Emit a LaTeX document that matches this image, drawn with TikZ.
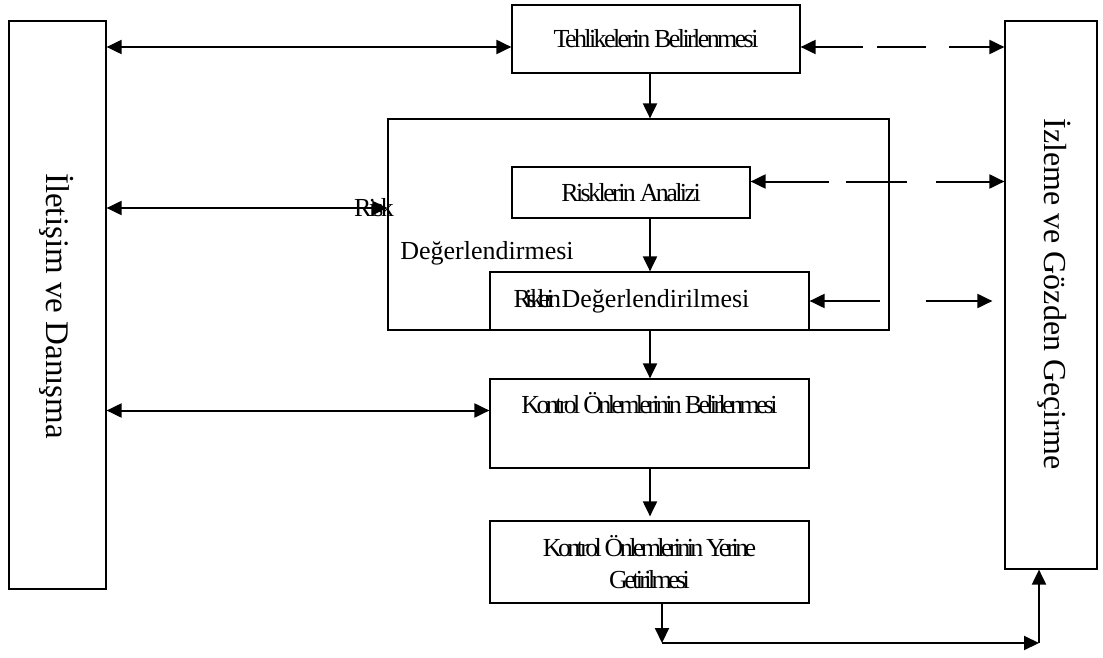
\documentclass[tikz,border=0pt]{standalone}
\usepackage{fontspec}
\setmainfont{Liberation Serif}
\newfontfamily\tightfont[LetterSpace=-10]{Liberation Serif}
\newfontfamily\tighterfont[LetterSpace=-14]{Liberation Serif}
\newfontfamily\squeezefont[LetterSpace=-23]{Liberation Serif}
\usetikzlibrary{arrows.meta,calc}
\tikzset{
	box/.style={draw, line width=1.2pt, inner sep=0pt},
	boxtext/.style={font=\fontsize{26}{32}\selectfont\tightfont, align=center},
	kontroltext/.style={font=\fontsize{26}{32}\selectfont\tighterfont, align=center},
	sidetext/.style={font=\fontsize{#1}{36}\selectfont, rotate=-90},
	arr/.style={line width=2pt, -{Triangle[length=15pt,width=14pt]}},
	bi/.style={line width=2pt, {Triangle[length=15pt,width=14pt]}-{Triangle[length=15pt,width=14pt]}},
}

\begin{document}
\begin{tikzpicture}[x=1pt,y=-1pt]
			%%%%% START %%%%%
			\useasboundingbox (0,0) rectangle (1103,658);
			
			% side boxes
			\node[box, minimum width=97pt, minimum height=568pt] (ilet) at (57.5,305) {};
			\node[sidetext=33] (iletlbl) at (57,306) {İletişim ve Danışma};
			\node[box, minimum width=92pt, minimum height=548pt] (izle) at (1051,295) {};
			\node[sidetext=32] (izlelbl) at (1054,294) {İzleme ve Gözden Geçirme};
			
			% middle column
			\node[box, boxtext, minimum width=288pt, minimum height=68pt] (tehl) at (656,39) {Tehlikelerin Belirlenmesi};
			\node[box, minimum width=501pt, minimum height=211pt] (risk) at (638.5,224.5) {};
			\node[box, boxtext, minimum width=238pt, minimum height=51pt] (anal) at (631,192.5) {Risklerin Analizi};
			\node[box, minimum width=319pt, minimum height=58pt] (degr) at (649.5,301) {};
			\node[font=\fontsize{26}{32}\selectfont] (degrlbl) at ([xshift=-18pt]degr.center) {{\squeezefont Risklerin }Değerlendirilmesi};
			\node[box, kontroltext, minimum width=319pt, minimum height=89pt] (kbel) at (649.5,423.5) {Kontrol Önlemlerinin Belirlenmesi\\ \strut};
			\node[box, kontroltext, minimum width=319pt, minimum height=82pt] (yer) at (649.5,562) {Kontrol Önlemlerinin Yerine\\ Getirilmesi};
			
			\node[font=\fontsize{26}{32}\selectfont\tightfont] (risklbl) at (374,208) {Risk};
			\node[font=\fontsize{26}{32}\selectfont] (degrtxt) at (487,253) {Değerlendirmesi};
			
			\coordinate (spine) at (650,0);
			\coordinate (fb1) at (662,643);
			\coordinate (fb2) at (1039,643);
			
			% flow down
			\draw[arr] (tehl.south -| spine) -- (risk.north -| spine);
			\draw[arr] (anal.south -| spine) -- (degr.north -| spine);
			\draw[arr] (degr.south -| spine) -- (kbel.north -| spine);
			\draw[arr] (kbel.south -| spine) -- ([yshift=4pt]yer.north -| spine);
			
			% communication
			\draw[bi] ([yshift=-8pt]tehl.west) -- ([yshift=-8pt]tehl.west -| ilet.east);
			\draw[bi] (ilet.east |- risklbl) -- (risk.west |- risklbl);
			\draw[bi] ([yshift=13pt]kbel.west) -- ([yshift=13pt]kbel.west -| ilet.east);
			
			% monitoring
			\draw[bi, dash pattern=on 48pt off 14pt on 49pt off 23pt on 80pt] ([yshift=-8pt]tehl.east) -- ([yshift=-8pt]tehl.east -| izle.west);
			\draw[bi, dash pattern=on 64pt off 17pt on 61pt off 29pt on 90pt] ([yshift=11pt]anal.east) -- ([yshift=11pt]anal.east -| izle.west);
			\draw[arr] ([xshift=70pt]degr.east) -- (degr.east);
			\draw[arr] ([xshift=116pt]degr.east) -- ([xshift=-12pt]degr.east -| izle.west);
			
			% feedback
			\draw[arr] (yer.south -| fb1) -- (fb1);
			\draw[arr] (fb1) -- (fb2);
			\draw[arr] (fb2) -- (izle.south -| fb2);
			%%%%% END %%%%%
\end{tikzpicture}
\end{document}
